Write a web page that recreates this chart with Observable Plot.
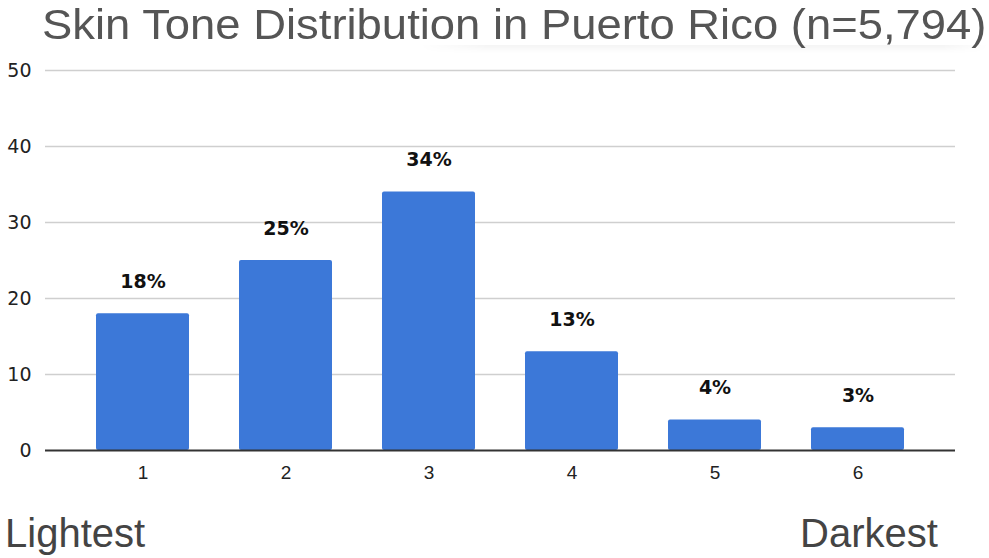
<!DOCTYPE html>
<html>
<head>
<meta charset="utf-8">
<script src="https://cdn.jsdelivr.net/npm/d3@7"></script>
<script src="https://cdn.jsdelivr.net/npm/@observablehq/plot@0.6"></script>
<style>
  body { margin: 0; background: #fff; font-family: "Liberation Sans", Arial, sans-serif; }
  #wrap { position: relative; width: 989px; height: 558px; overflow: hidden; background: #fff; }
  #title { position: absolute; left: 42px; top: 3px; font-size: 43px; line-height: 43px; color: #555; white-space: nowrap; transform: scaleX(1.056); transform-origin: left top; }
  #shade { position: absolute; left: 420px; top: 45px; width: 568px; height: 8px;
           background: linear-gradient(to bottom, rgba(0,0,0,0.045), rgba(0,0,0,0));
           -webkit-mask-image: linear-gradient(to right, transparent, #000 12%, #000 92%, transparent);
           mask-image: linear-gradient(to right, transparent, #000 12%, #000 92%, transparent); }
  #chart { position: absolute; left: 0; top: 50px; }
  #chart g[aria-label="x-axis tick label"] { font-size: 19px; font-family: "Liberation Sans", Arial, sans-serif; }
  #chart g[aria-label="y-axis tick label"] { font-size: 19px; }
  .end { position: absolute; top: 513px; font-size: 40px; line-height: 40px; color: #444; white-space: nowrap; }
</style>
</head>
<body>
<div id="wrap">
  <div id="title">Skin Tone Distribution in Puerto Rico (n=5,794)</div>
  <div id="chart"></div>
  <div id="shade"></div>
  <div class="end" style="left:5px">Lightest</div>
  <div class="end" style="left:800px">Darkest</div>
</div>
<script>
// Skin tone categories, lightest (1) to darkest (6)
const tones = [1, 2, 3, 4, 5, 6];
// Share of respondents in each category, in percent
const shares = [18, 25, 34, 13, 4, 3];
// Value axis ticks
const yTicks = [0, 10, 20, 30, 40, 50];

const data = tones.map((tone, i) => ({tone, share: shares[i]}));

const chart = Plot.plot({
  width: 989,
  height: 450,
  marginTop: 20,
  marginBottom: 50,
  marginLeft: 45,
  marginRight: 34,
  style: {fontFamily: "'DejaVu Sans', sans-serif", color: "#222", background: "transparent"},
  x: {domain: tones, padding: 0.35, label: null},
  y: {domain: [0, 50], label: null},
  marks: [
    Plot.ruleY(yTicks.filter(d => d > 0), {stroke: "#cfcfcf", strokeWidth: 1.3}),
    Plot.barY(data, {x: "tone", y: "share", fill: "#3c78d8", rx: 2}),
    Plot.ruleY([0], {stroke: "#333", strokeWidth: 2}),
    Plot.text(data, {
      x: "tone", y: "share", text: d => `${d.share}%`,
      dy: -32, fontWeight: "bold", fontSize: 19, fill: "#111"
    }),
    Plot.axisY({ticks: yTicks, tickSize: 0, tickPadding: 14, label: null}),
    Plot.axisX({tickSize: 0, tickPadding: 15, label: null})
  ]
});

document.getElementById("chart").appendChild(chart);
</script>
</body>
</html>
